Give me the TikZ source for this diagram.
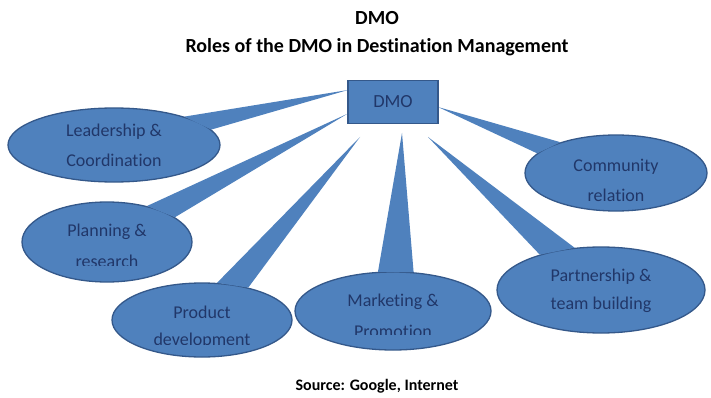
\documentclass[tikz,border=0pt]{standalone}
\usepackage{fontspec}
\setmainfont[Ligatures=NoCommon]{Carlito}
\usetikzlibrary{shapes.geometric}
\pgfdeclarelayer{back}
\pgfdeclarelayer{front}
\pgfsetlayers{back,main,front}
\definecolor{bfill}{RGB}{79,129,189}
\definecolor{bline}{RGB}{52,88,138}
\definecolor{btext}{RGB}{33,55,105}
\begin{document}
\begin{tikzpicture}[x=1pt,y=-1pt,
  bubble/.style={ellipse, fill=bfill, draw=bline, line width=1.3pt, inner sep=0pt},
  btxt/.style={text=btext, font=\fontsize{18}{21}\selectfont, inner sep=0pt},
  wedgeline/.style={fill=bfill, draw=bline, line width=1.3pt, line join=round},
  wedgefill/.style={fill=bfill},
  boxstyle/.style={rectangle, fill=bfill, draw=bline, line width=1.3pt, minimum width=90pt, minimum height=43pt, inner sep=0pt, text=btext, font=\fontsize{18.5}{21}\selectfont},
  title/.style={font=\bfseries\fontsize{20}{23}\selectfont, inner sep=0pt},
  src/.style={font=\bfseries\fontsize{16}{19}\selectfont, inner sep=0pt}]
\useasboundingbox (0,0) rectangle (711,398);
\fill[white] (0,0) rectangle (711,398);

% titles
\node[title] (t1) at (377,18) {DMO};
\node[title] (t2) at (377,47) {Roles of the DMO in Destination Management};
\node[src] (s) at (377,386) {Source: Google, Internet};

% central box
\node[boxstyle] (dmo) at (393,102) {DMO};

% ellipses
\node[bubble, minimum width=212pt, minimum height=74pt] (lead) at (114,145) {};
\node[bubble, minimum width=170pt, minimum height=80pt] (plan) at (107,242) {};
\node[bubble, minimum width=180pt, minimum height=74pt] (prod) at (202,320) {};
\node[bubble, minimum width=196pt, minimum height=78pt] (mark) at (393,311) {};
\node[bubble, minimum width=208pt, minimum height=86pt] (part) at (601,290) {};
\node[bubble, minimum width=182pt, minimum height=76pt] (comm) at (616,173) {};

% wedge tips
\coordinate (tLead) at (348,90);
\coordinate (tPlan) at (347,114);
\coordinate (tProd) at (360,137);
\coordinate (tMark) at (402,133);
\coordinate (tPart) at (428,137);
\coordinate (tComm) at (438,107);

\begin{pgfonlayer}{back}
  \draw[wedgeline] (lead.22) -- (tLead) -- (lead.9) -- cycle;
  \draw[wedgeline] (plan.42) -- (tPlan) -- (plan.20) -- cycle;
  \draw[wedgeline] (prod.68) -- (tProd) -- (prod.35) -- cycle;
  \draw[wedgeline] (mark.111) -- (tMark) -- (mark.62) -- cycle;
  \draw[wedgeline] (part.150) -- (tPart) -- (part.122) -- cycle;
  \draw[wedgeline] (comm.166) -- (tComm) -- (comm.151) -- cycle;
\end{pgfonlayer}
\begin{pgfonlayer}{front}
  \fill[wedgefill] (lead.22) -- (tLead) -- (lead.9) -- cycle;
  \fill[wedgefill] (plan.42) -- (tPlan) -- (plan.20) -- cycle;
  \fill[wedgefill] (prod.68) -- (tProd) -- (prod.35) -- cycle;
  \fill[wedgefill] (mark.111) -- (tMark) -- (mark.62) -- cycle;
  \fill[wedgefill] (part.150) -- (tPart) -- (part.122) -- cycle;
  \fill[wedgefill] (comm.166) -- (tComm) -- (comm.151) -- cycle;
  \node[boxstyle] (dmo2) at (dmo) {DMO};
  % texts
  \node[btxt] (leadA) at (114,132) {Leadership \&};
  \node[btxt] (leadB) at (114,160) {Coordination};
  \node[btxt] (planA) at (107,232) {Planning \&};
  \begin{scope}
    \clip (0,240) rectangle (711,265);
    \node[btxt] (planB) at (107,261) {research};
  \end{scope}
  \node[btxt] (prodA) at (202,312) {Product};
  \begin{scope}
    \clip (0,320) rectangle (711,344);
    \node[btxt] (prodB) at (202,341) {development};
  \end{scope}
  \node[btxt] (markA) at (393,302) {Marketing \&};
  \begin{scope}
    \clip (0,315) rectangle (711,334);
    \node[btxt] (markB) at (393,331) {Promotion};
  \end{scope}
  \node[btxt] (partA) at (601,277) {Partnership \&};
  \node[btxt] (partB) at (601,305) {team building};
  \node[btxt] (commA) at (616,167) {Community};
  \node[btxt] (commB) at (616,195) {relation};
\end{pgfonlayer}
\end{tikzpicture}
\end{document}
